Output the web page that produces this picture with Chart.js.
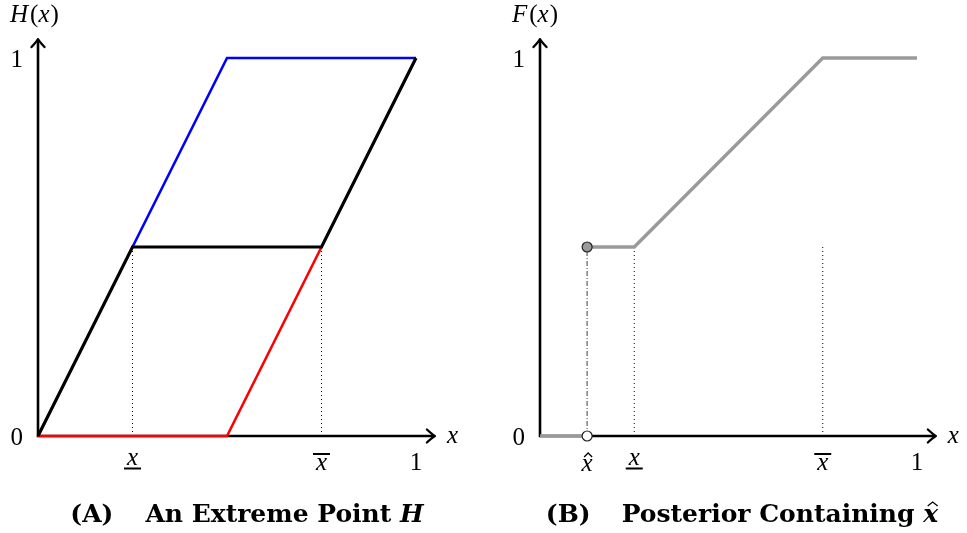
<!DOCTYPE html>
<html><head><meta charset="utf-8">
<script src="https://cdn.jsdelivr.net/npm/chart.js@4"></script>
<style>
html,body{margin:0;padding:0;background:#fff;width:967px;height:533px;overflow:hidden}
canvas{position:absolute;top:0}
#cA{left:0}
#cB{left:483px}
</style></head><body>
<canvas id="cA" width="483" height="533"></canvas>
<canvas id="cB" width="484" height="533"></canvas>
<script>
// ---------- Panel A data ----------
const blackX = [0, 0.25, 0.75, 1];
const blackY = [0, 0.5, 0.5, 1];
const blueX  = [0.25, 0.5, 1];
const blueY  = [0.5, 1, 1];
const redX   = [0, 0.5, 0.75];
const redY   = [0, 0, 0.5];
const dottedAX = [0.25, 0.75];
const dottedAY = [0, 0.5];
// ---------- Panel B data ----------
const grayLowX  = [0, 0.125];
const grayLowY  = [0, 0];
const grayHighX = [0.125, 0.25, 0.75, 1];
const grayHighY = [0.5, 0.5, 1, 1];
const hatX = [0.125];
const hatY = [0, 0.5];
const dottedBX = [0.25, 0.75];
const dottedBY = [0, 0.5];
// ---------- ticks / labels ----------
const yTickValues = [0, 1];
const yTickLabels = ['0', '1'];
const tickAValues = [0.25, 0.75, 1];
const tickALabels = ['x', 'x', '1'];
const tickAMarks  = ['under', 'over', ''];
const tickBValues = [0.125, 0.25, 0.75, 1];
const tickBLabels = ['x', 'x', 'x', '1'];
const tickBMarks  = ['hat', 'under', 'over', ''];
const axisEnd = 1.05;
const titleA = [['(A)', 'b'], [null, 32], ['An Extreme Point ', 'b'], ['H', 'bi']];
const titleB = [['(B)', 'b'], [null, 31], ['Posterior Containing ', 'b'], ['x', 'bi', 'hat']];
const yNameA = [['H', 'i'], [null, 2], ['(', 'r'], ['x', 'i'], [null, 1], [')', 'r']];
const yNameB = [['F', 'i'], [null, 2], ['(', 'r'], ['x', 'i'], [null, 1], [')', 'r']];

const FAM = '"Liberation Serif","DejaVu Serif",serif';
const TFAM = '"DejaVu Serif","Liberation Serif",serif';
function font(st) {
  if (st === 'b') return 'bold 25px ' + TFAM;
  if (st === 'bi') return 'italic bold 25px ' + TFAM;
  if (st === 'i') return 'italic 25px ' + FAM;
  return '25px ' + FAM;
}
function pts(xs, ys) { return xs.map((x, i) => ({x: x, y: ys[i]})); }

function drawHat(ctx, cx, top, w) {
  ctx.save();
  ctx.strokeStyle = '#000'; ctx.lineWidth = 1.3;
  ctx.beginPath();
  ctx.moveTo(cx - w / 2, top + 4);
  ctx.lineTo(cx, top);
  ctx.lineTo(cx + w / 2, top + 4);
  ctx.stroke();
  ctx.restore();
}

function drawRuns(ctx, runs, x, baseline, measureOnly) {
  let cx = x;
  for (const r of runs) {
    if (r[0] === null) { cx += r[1]; continue; }
    ctx.font = font(r[1]);
    const w = ctx.measureText(r[0]).width;
    if (!measureOnly) {
      ctx.fillText(r[0], cx, baseline);
      if (r[2] === 'hat') {
        const a = ctx.measureText(r[0]).actualBoundingBoxAscent;
        drawHat(ctx, cx + w / 2 + 2, baseline - a - 7, 10);
      }
    }
    cx += w;
  }
  return cx - x;
}

function arrow(ctx, tx, ty, dx, dy) {
  const nx = -dy, ny = dx;
  const L = 8, H = 6.5;
  ctx.beginPath();
  ctx.moveTo(tx - dx * L + nx * H, ty - dy * L + ny * H);
  ctx.quadraticCurveTo(tx - dx * 2.5 + nx * 1.5, ty - dy * 2.5 + ny * 1.5, tx, ty);
  ctx.quadraticCurveTo(tx - dx * 2.5 - nx * 1.5, ty - dy * 2.5 - ny * 1.5, tx - dx * L - nx * H, ty - dy * L - ny * H);
  ctx.stroke();
}

function decor(opts) {
  return {
    id: 'decor',
    beforeDatasetsDraw(chart) {
      const ctx = chart.ctx, xs = chart.scales.x, ys = chart.scales.y;
      const x0 = xs.getPixelForValue(0), y0 = ys.getPixelForValue(0);
      const xe = xs.getPixelForValue(axisEnd), ye = ys.getPixelForValue(axisEnd);
      ctx.save();
      ctx.strokeStyle = '#000'; ctx.lineWidth = 2.6; ctx.lineCap = 'butt';
      ctx.beginPath();
      ctx.moveTo(x0 - 1.3, y0); ctx.lineTo(xe - 1, y0);
      ctx.moveTo(x0, y0 + 1.3); ctx.lineTo(x0, ye + 1);
      ctx.stroke();
      ctx.lineCap = 'round'; ctx.lineJoin = 'round'; ctx.lineWidth = 2.3;
      arrow(ctx, xe, y0, 1, 0);
      arrow(ctx, x0, ye, 0, -1);
      ctx.restore();
    },
    afterDatasetsDraw(chart) {
      const ctx = chart.ctx, xs = chart.scales.x, ys = chart.scales.y;
      const x0 = xs.getPixelForValue(0), y0 = ys.getPixelForValue(0);
      const xe = xs.getPixelForValue(axisEnd), ye = ys.getPixelForValue(axisEnd);
      ctx.save();
      ctx.fillStyle = '#000'; ctx.textAlign = 'left';
      ctx.textBaseline = 'alphabetic';
      // y tick labels
      ctx.font = font('r');
      yTickValues.forEach((v, i) => {
        const t = yTickLabels[i];
        const m = ctx.measureText(t);
        const py = ys.getPixelForValue(v);
        ctx.fillText(t, x0 - 15 - m.width, py + m.actualBoundingBoxAscent / 2);
      });
      // x tick labels
      const top = y0 + 17;
      opts.tickValues.forEach((v, i) => {
        const t = opts.tickLabels[i], mk = opts.tickMarks[i];
        const px = xs.getPixelForValue(v);
        if (t === '1') {
          ctx.font = font('r');
          const m = ctx.measureText(t);
          ctx.fillText(t, px - m.width / 2, top + m.actualBoundingBoxAscent);
          return;
        }
        ctx.font = font('i');
        const m = ctx.measureText(t);
        const w = m.width;
        const a = m.actualBoundingBoxAscent;
        let base;
        if (mk === 'under') {
          base = top + a;
          ctx.fillRect(px - 8.5, base + 2.5, 17, 2);
        } else if (mk === 'over') {
          ctx.fillRect(px - 8.5, top, 17, 2);
          base = top + 5 + a;
        } else if (mk === 'hat') {
          drawHat(ctx, px + 1, top, 8);
          base = top + 6 + a;
        }
        ctx.fillText(t, px - w / 2, base);
      });
      // axis name x
      ctx.font = font('i');
      ctx.fillText('x', xe + 12, y0 + 7);
      // y axis name
      drawRuns(ctx, opts.yName, x0 - 28, 22);
      // title
      const tw = drawRuns(ctx, opts.title, 0, 0, true);
      drawRuns(ctx, opts.title, opts.titleCenter - tw / 2, 522);
      ctx.restore();
    }
  };
}

function baseOptions(pad) {
  return {
    responsive: false, animation: false, events: [],
    layout: {padding: pad},
    plugins: {legend: {display: false}, tooltip: {enabled: false}, title: {display: false}},
    scales: {
      x: {type: 'linear', min: 0, max: 1, display: false},
      y: {type: 'linear', min: 0, max: 1, display: false}
    },
    elements: {point: {radius: 0}, line: {tension: 0}}
  };
}
function lineDs(data, color, width, order, dash) {
  return {data: data, borderColor: color, borderWidth: width, showLine: true, fill: false,
          pointRadius: 0, clip: false, order: order, borderDash: dash || [],
          borderCapStyle: 'butt', borderJoinStyle: 'miter'};
}

// Panel A
const dsA = [
  lineDs(pts(blackX, blackY), '#000', 3.2, 0),
  lineDs(pts(redX, redY), '#ff0000', 2.6, 1),
  lineDs(pts(blueX, blueY), '#0000ff', 2.6, 2)
];
dottedAX.forEach(v => dsA.push(lineDs(pts([v, v], dottedAY), '#000', 1, 3, [1, 3])));
new Chart(document.getElementById('cA'), {
  type: 'scatter',
  data: {datasets: dsA},
  options: baseOptions({left: 38, right: 67, top: 58, bottom: 97}),
  plugins: [decor({tickValues: tickAValues, tickLabels: tickALabels, tickMarks: tickAMarks,
                   yName: yNameA, title: titleA, titleCenter: 247})]
});

// Panel B
const dsB = [
  {data: pts(hatX, [hatY[1]]), showLine: false, pointRadius: 5, pointBorderWidth: 1.2,
   pointBorderColor: '#222', pointBackgroundColor: '#9a9a9a', clip: false, order: 0},
  {data: pts(hatX, [hatY[0]]), showLine: false, pointRadius: 5, pointBorderWidth: 1.2,
   pointBorderColor: '#222', pointBackgroundColor: '#ffffff', clip: false, order: 0},
  lineDs(pts(grayLowX, grayLowY), '#9a9a9a', 3.4, 2),
  lineDs(pts(grayHighX, grayHighY), '#9a9a9a', 3.4, 2),
  lineDs(pts([hatX[0], hatX[0]], hatY), '#808080', 1.5, 4, [5, 2, 1, 2])
];
dottedBX.forEach(v => dsB.push(lineDs(pts([v, v], dottedBY), '#000', 1, 5, [1, 3])));
new Chart(document.getElementById('cB'), {
  type: 'scatter',
  data: {datasets: dsB},
  options: baseOptions({left: 57, right: 50, top: 58, bottom: 97}),
  plugins: [decor({tickValues: tickBValues, tickLabels: tickBLabels, tickMarks: tickBMarks,
                   yName: yNameB, title: titleB, titleCenter: 742 - 483})]
});
</script>
</body></html>
